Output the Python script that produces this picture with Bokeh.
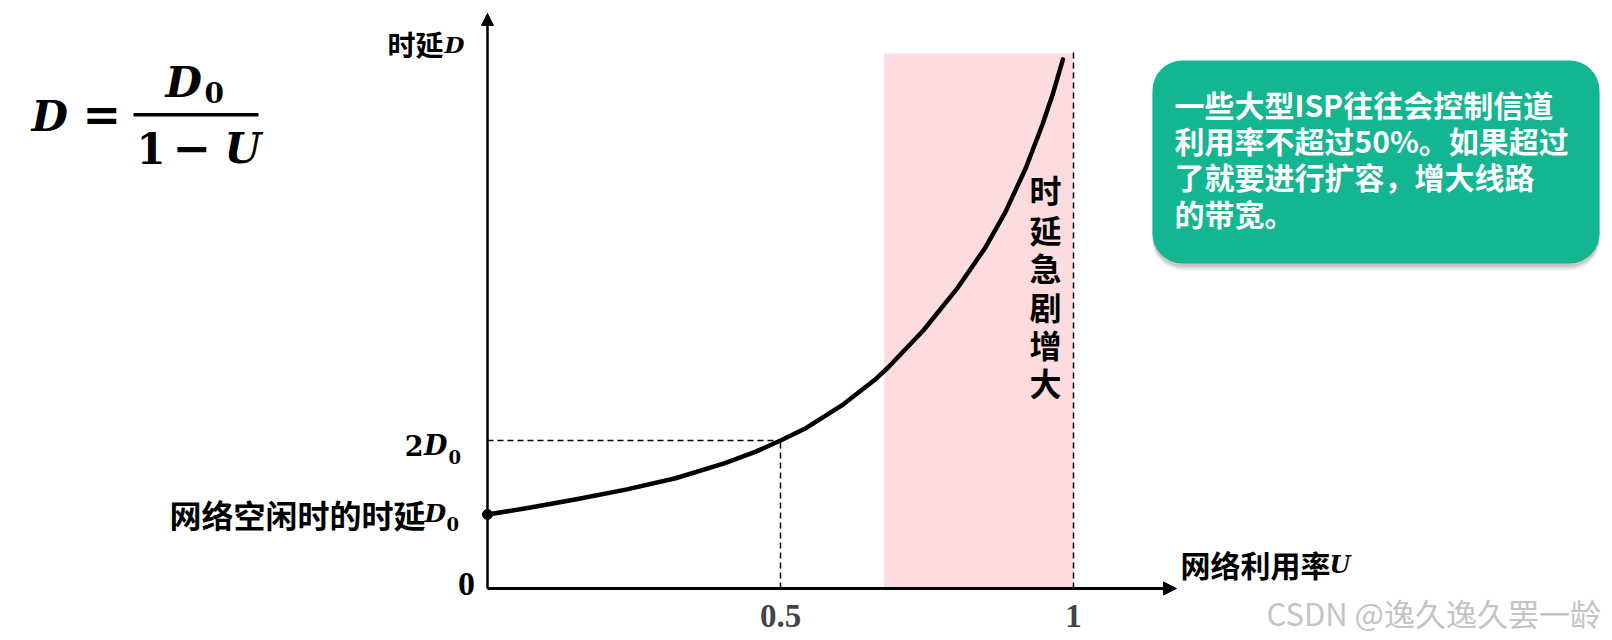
from bokeh.plotting import figure
from bokeh.models import Arrow, NormalHead, Label, BoxAnnotation, Range1d
from bokeh.embed import file_html
from bokeh.resources import INLINE

# ---------------- data ----------------
utilization = [0.0, 0.071, 0.154, 0.238, 0.321, 0.404, 0.458, 0.5, 0.544, 0.604,
               0.661, 0.684, 0.744, 0.802, 0.849, 0.884, 0.919, 0.947, 0.965, 0.982]
delay = [1.0, 1.09, 1.21, 1.34, 1.49, 1.69, 1.85, 2.0, 2.17, 2.47,
         2.82, 2.99, 3.49, 4.06, 4.60, 5.09, 5.69, 6.27, 6.69, 7.15]   # in units of D0
idle_point = (0.0, 1.0)                                 # (U, D/D0)
half_point = (0.5, 2.0)
danger_zone = [0.677, 1.0]                              # shaded U interval
danger_top = 7.23
limit_top = 7.27
x_tick_values = [0.5, 1.0]
x_tick_labels = ["0.5", "1"]
box_lines = ["一些大型ISP往往会控制信道",
             "利用率不超过50%。如果超过",
             "了就要进行扩容，增大线路",
             "的带宽。"]
vertical_note = "时延急剧增大"

# ---------------- geometry ----------------
W, H = 1612, 640
U0_PAGE, PX_U = 487, 586
D0_PAGE, PX_D = 588, 74


def dx(xp):
    return (xp - U0_PAGE) / PX_U


def dy(yp):
    return (D0_PAGE - yp) / PX_D


p = figure(width=W, height=H, output_backend="svg", toolbar_location=None,
           x_range=Range1d(dx(0), dx(W)), y_range=Range1d(dy(H), dy(0)),
           x_axis_type=None, y_axis_type=None, min_border=0,
           min_border_left=0, min_border_right=0, min_border_top=0, min_border_bottom=0,
           background_fill_color="white", border_fill_color="white")
p.grid.visible = False
p.outline_line_color = None

CJK = "Noto Sans CJK SC"
SERIF = "DejaVu Serif"
TIMES = "Liberation Serif"


def lab(text, xp, yp, size, font=CJK, style="bold", color="black", align="left", baseline="middle"):
    p.add_layout(Label(x=dx(xp), y=dy(yp), text=text, text_font=font,
                       text_font_size=f"{size}px", text_font_style=style,
                       text_color=color, text_align=align, text_baseline=baseline))


# shaded zone
p.add_layout(BoxAnnotation(left=danger_zone[0], right=danger_zone[1], bottom=0, top=danger_top,
                           fill_color="#fddcdf", fill_alpha=1, line_color=None, level="underlay"))

# dashed guides
p.segment(x0=[0, half_point[0], 1.0], y0=[half_point[1], 0, 0],
          x1=[half_point[0], half_point[0], 1.0], y1=[half_point[1], half_point[1], limit_top],
          line_color="black", line_width=1.5, line_dash="6 4")

# axes arrows
p.add_layout(Arrow(x_start=0, y_start=0, x_end=dx(1176), y_end=0, line_width=3,
                   line_color="black",
                   end=NormalHead(size=13, fill_color="black", line_color="black")))
p.add_layout(Arrow(x_start=0, y_start=0, x_end=0, y_end=dy(13), line_width=2.5,
                   line_color="black",
                   end=NormalHead(size=12, fill_color="black", line_color="black")))

# curve
p.line(utilization, delay, line_color="black", line_width=4.5, line_cap="round", line_join="round")
p.scatter(x=[idle_point[0]], y=[idle_point[1]], size=10, color="black")

# tick labels
lab("0", 466, 583, 34, font=TIMES, align="center")
for v, t in zip(x_tick_values, x_tick_labels):
    p.add_layout(Label(x=v, y=dy(615), text=t, text_font=TIMES, text_font_size="33px",
                       text_font_style="bold", text_align="center", text_baseline="middle"))
lab("2", 423, 445, 27, font=SERIF, align="right")
lab("D", 447, 445, 27, font=SERIF, style="bold italic", align="right")
lab("0", 448, 456, 18, font=SERIF, align="left")

# axis titles
lab("时延", 387, 43, 28)
lab("D", 444, 44, 23, font=SERIF, style="bold italic")
lab("网络利用率", 1180, 563, 30)
lab("U", 1329, 564, 24, font=SERIF, style="bold italic")
lab("网络空闲时的时延", 169, 513, 32)
lab("D", 424, 513, 25, font=SERIF, style="bold italic")
lab("0", 446, 523, 18, font=SERIF, align="left")

# vertical note
for ch, yp in zip(vertical_note, [188, 228, 266, 305, 343, 381]):
    lab(ch, 1045, yp, 32, align="center")

# formula D = D0 / (1 - U)
lab("D", 31, 116, 42, font=SERIF, style="bold italic")
lab("=", 82, 114, 46, font=SERIF, style="bold")
p.add_layout(BoxAnnotation(left=dx(133), right=dx(258), top=dy(112.5), bottom=dy(116),
                           fill_color="black", fill_alpha=1, line_color=None))
lab("D", 165, 82, 42, font=SERIF, style="bold italic")
lab("0", 204, 92, 28, font=SERIF, style="bold")
lab("1", 136, 148, 42, font=SERIF, style="bold")
lab("−", 172, 146, 46, font=SERIF, style="bold")
lab("U", 224, 148, 42, font=SERIF, style="bold italic")

# green note box (shadow + box)
for off, alpha in [(7, 0.06), (5, 0.08), (3, 0.10)]:
    p.add_layout(BoxAnnotation(left=dx(1152), right=dx(1599), top=dy(60 + off), bottom=dy(263 + off),
                               fill_color="#000000", fill_alpha=alpha, line_color=None,
                               border_radius=30))
p.add_layout(BoxAnnotation(left=dx(1152), right=dx(1599), top=dy(60), bottom=dy(263),
                           fill_color="#14b692", fill_alpha=1, line_color=None, border_radius=30))
for line, yp in zip(box_lines, [103, 139, 175, 212]):
    lab(line, 1174, yp, 30, color="white")

# watermark
lab("CSDN @逸久逸久罢一龄", 1266, 612, 31, style="normal", color="#c4c4c4")

open("out.html", "w").write(file_html(p, INLINE))
